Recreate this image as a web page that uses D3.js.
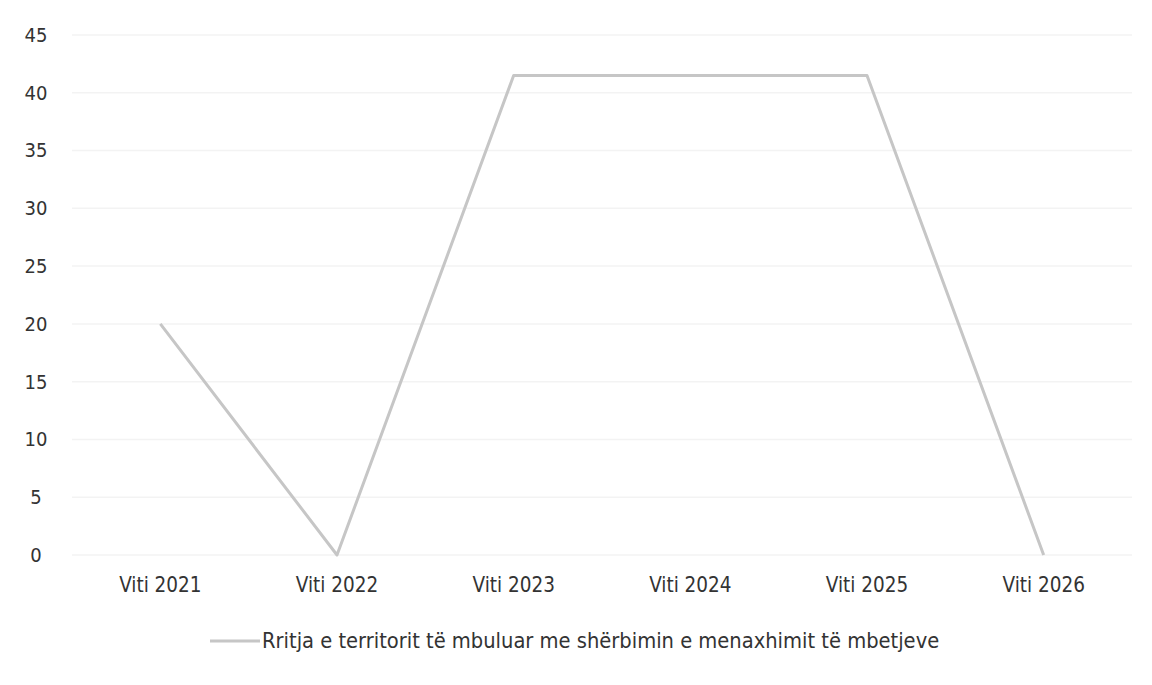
<!DOCTYPE html>
<html>
<head>
<meta charset="utf-8">
<script src="https://cdn.jsdelivr.net/npm/d3@7"></script>
<style>
  body { margin: 0; background: #fff; }
  text { font-family: "DejaVu Sans Condensed", "DejaVu Sans", sans-serif; fill: #333; }
</style>
</head>
<body>
<svg id="chart"></svg>
<script>
let years = ['Viti 2021', 'Viti 2022', 'Viti 2023', 'Viti 2024', 'Viti 2025', 'Viti 2026']
let values = [20, 0, 41.5, 41.5, 41.5, 0]
let yTicks = [0, 5, 10, 15, 20, 25, 30, 35, 40, 45]
let seriesName = 'Rritja e territorit të mbuluar me shërbimin e menaxhimit të mbetjeve'

let width = 1152
let height = 685
let plotLeft = 72, plotRight = 1132, plotTop = 35, plotBottom = 555

let svg = d3.select('#chart').attr('width', width).attr('height', height)

let xScale = d3.scaleBand().domain(years).range([plotLeft, plotRight])
let yScale = d3.scaleLinear().domain([0, 45]).range([plotBottom, plotTop])

// gridlines
svg.append('g').selectAll('line')
    .data(yTicks)
    .enter()
    .append('line')
    .attr('x1', plotLeft)
    .attr('x2', plotRight)
    .attr('y1', d => yScale(d))
    .attr('y2', d => yScale(d))
    .attr('stroke', '#f3f3f3')
    .attr('stroke-width', 1.5)

// y axis labels
let yAxis = d3.axisLeft(yScale).tickValues(yTicks).tickSize(0).tickPadding(0)
let gy = svg.append('g').attr('transform', 'translate(36,0)').call(yAxis)
gy.select('.domain').remove()
gy.selectAll('text').attr('font-size', 20).style('font-family', '"DejaVu Sans Condensed", sans-serif').attr('fill', '#333').attr('text-anchor', 'middle')

// x axis labels
let xAxis = d3.axisBottom(xScale).tickSize(0).tickPadding(22)
let gx = svg.append('g').attr('transform', 'translate(0,' + plotBottom + ')').call(xAxis)
gx.select('.domain').remove()
gx.selectAll('text').attr('font-size', 20.5).style('font-family', '"DejaVu Sans Condensed", sans-serif').attr('fill', '#333')

// line
let line = d3.line()
    .x((d, i) => xScale(years[i]) + xScale.bandwidth() / 2)
    .y(d => yScale(d))

svg.append('path')
    .datum(values)
    .attr('d', line)
    .attr('fill', 'none')
    .attr('stroke', '#c6c6c6')
    .attr('stroke-width', 3)
    .attr('stroke-linejoin', 'round')

// legend
let legend = svg.append('g').attr('transform', 'translate(210,641)')
legend.append('line')
    .attr('x1', 0).attr('x2', 50).attr('y1', 0).attr('y2', 0)
    .attr('stroke', '#c6c6c6').attr('stroke-width', 3)
legend.append('text')
    .attr('x', 52).attr('y', 7)
    .attr('font-size', 21.7)
    .text(seriesName)
</script>
</body>
</html>
